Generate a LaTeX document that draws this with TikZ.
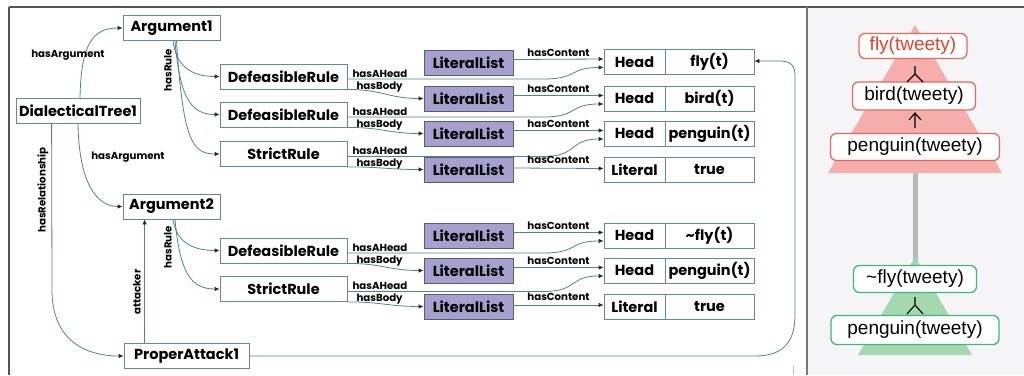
\documentclass[tikz,border=0pt]{standalone}
\usepackage{fontspec}
\setmainfont{Liberation Sans}
\newfontfamily\pop{Poppins}
\usetikzlibrary{arrows.meta,calc}
\definecolor{edge}{HTML}{4E8398}
\definecolor{boxline}{HTML}{5E8C9C}
\definecolor{llfill}{HTML}{A8A0CC}
\definecolor{llline}{HTML}{4E6080}
\definecolor{frame}{HTML}{555555}
\definecolor{rbg}{HTML}{F5F5F8}
\definecolor{redline}{HTML}{EE6655}
\definecolor{redtext}{HTML}{E8402A}
\definecolor{redtri}{HTML}{F6AEAC}
\definecolor{greenline}{HTML}{3DB878}
\definecolor{greentri}{HTML}{A6D8B0}
\tikzset{
  box/.style={draw=boxline, line width=0.8pt, fill=white, minimum height=25pt, inner sep=0pt,
    font=\pop\bfseries\fontsize{14.5}{15}\selectfont},
  llbox/.style={box, fill=llfill, draw=llline},
  lab/.style={font=\pop\bfseries\fontsize{10.2}{11}\selectfont, inner sep=0pt},
  conn/.style={draw=edge, line width=0.8pt},
  arr/.style={conn, -{Latex[length=5pt,width=4.5pt,color=black!85]}},
  rnode/.style={draw, rounded corners=6pt, line width=1.3pt, fill=white, inner sep=0pt,
    font=\fontsize{19}{20}\selectfont},
  sym/.style={draw=black, line width=1.1pt},
}
\begin{document}
\begin{tikzpicture}[x=1pt,y=-1pt]
\useasboundingbox (0,0) rectangle (1024,375);
% frame
\fill[white] (0,0) rectangle (1024,375);
\fill[rbg] (808,8) rectangle (1024,375);
\draw[frame, line width=1.5pt] (9,7) -- (1024,7);
\draw[frame, line width=2.2pt] (9,7) -- (9,375);
\draw[frame!80, line width=1.8pt] (807,7) -- (807,375);
\draw[gray!50, line width=1pt] (793,366) -- (793,375);

% ---------- left panel nodes ----------
\node[box, minimum width=97pt]  (a1) at (171.5,28) {Argument1};
\node[box, minimum width=124pt] (dt) at (78,111) {DialecticalTree1};
\node[box, minimum width=97pt]  (a2) at (171.5,206.5) {Argument2};
\node[box, minimum width=125pt] (pa) at (186.5,356) {ProperAttack1};

\node[box, minimum width=127pt] (d1) at (283.5,76.5) {DefeasibleRule};
\node[box, minimum width=127pt] (d2) at (283.5,114.5) {DefeasibleRule};
\node[box, minimum width=127pt] (s1) at (283.5,154) {StrictRule};
\node[box, minimum width=127pt] (d3) at (283.5,250.5) {DefeasibleRule};
\node[box, minimum width=127pt] (s2) at (283.5,289) {StrictRule};

\foreach \n/\y in {1/62.5,2/98.5,3/133.5,4/169.5,5/235.5,6/270.5,7/306.5}{
  \node[llbox, minimum width=89pt] (l\n) at (468.5,\y) {LiteralList};
}
\foreach \n/\y/\k/\v in {1/62/Head/fly(t),2/98.5/Head/bird(t),3/133.5/Head/penguin(t),4/170/Literal/true,
  5/235.5/Head/\textasciitilde fly(t),6/270.5/Head/penguin(t),7/306.5/Literal/true}{
  \node[box, minimum width=61pt] (h\n a) at (634.5,\y) {\k};
  \node[box, minimum width=89pt] (h\n b) at (709.5,\y) {\v};
}

% ---------- left panel connectors ----------
\draw[arr] ($(dt.north)+(2,0)$) .. controls (81,45) and (92,28) .. (a1.west);
\node[lab] (lha1) at (68,55) {hasArgument};
\draw[arr] ($(dt.south)+(0,0)$) .. controls (79,180) and (95,206.5) .. (a2.west);
\node[lab] (lha2) at (128,157) {hasArgument};
\draw[arr] ($(dt.south west)+(36,0)$) -- (52,290) .. controls (52,340) and (85,356) .. (pa.west);
\node[lab, rotate=90] (lhr) at (43,190) {hasRelationship};
\draw[arr] ($(pa.north west)+(21,0)$) -- ($(a2.south west)+(22,0)$);
\node[lab, rotate=90] (lat) at (137,292) {attacker};

\node[lab, rotate=90] (lr1) at (168,70) {hasRule};
\draw[arr] ($(a1.south)+(1.5,0)$) .. controls (176,65) and (190,76.5) .. (d1.west);
\draw[arr] ($(a1.south)+(3.5,0)$) .. controls (180,100) and (192,114.5) .. (d2.west);
\draw[arr] ($(a1.south)+(5,0)$) .. controls (183,140) and (192,154) .. (s1.west);
\node[lab, rotate=90] (lr2) at (168,247) {hasRule};
\draw[arr] ($(a2.south)+(1.5,0)$) .. controls (176,240) and (190,250.5) .. (d3.west);
\draw[arr] ($(a2.south)+(3.5,0)$) .. controls (180,275) and (192,289) .. (s2.west);

% rule -> head (hasAHead) and rule -> literal list (hasBody)
\foreach \r/\h/\b in {d1/h1a/l2, d2/h2a/l3, s1/h3a/l4, d3/h5a/l6, s2/h6a/l7}{
  \draw[arr] ($(\r.east)+(0,2.5)$) -- ($(\b.east |- \r.east)+(30,2.5)$)
     .. controls +(35,0) and +(-35,0) .. ($(\h.west)+(0,5.5)$);
  \draw[arr] ($(\r.south east)+(0,0)$) .. controls +(35,0) and +(-35,0) .. (\b.west);
  \node[lab, anchor=base west] at ($(\r.east)+(5,0.5)$) {hasAHead};
  \node[lab, anchor=base west] at ($(\r.south east)+(9,0)$) {hasBody};
}
% literal list -> head (hasContent)
\foreach \n in {1,2,3,5,6}{
  \draw[arr] ($(l\n.east)+(0,-3)$) -- ($(h\n a.west)+(0,-3)$);
  \node[lab, anchor=base] at ($(l\n.east)!0.5!(h\n a.west)+(0,-6)$) {hasContent};
}
\foreach \n in {4,7}{
  \draw[arr] ($(l\n.east)+(0,-1.5)$) -- ($(h\n a.west)+(0,-1.5)$);
  \node[lab, anchor=base] at ($(l\n.east)!0.5!(h\n a.west)+(0,-6)$) {hasContent};
}
% proper attack -> fly(t)
\draw[arr] (pa.east) -- (755,356) .. controls (785,356) and (795,340) .. (795,315)
  -- (795,75) .. controls (795,65) and (790,61) .. (780,61) -- ($(h1b.east)+(0,-1)$);

% ---------- right panel ----------
\fill[redtri] (915,25) -- (1002,173) -- (828,173) -- cycle;
\fill[gray!55] (912.5,173) rectangle (917.5,262);
\fill[greentri] (915,257) -- (972,355) -- (858,355) -- cycle;

\node[rnode, draw=redline, text=redtext, minimum width=108pt, minimum height=25pt] (fly) at (913,46) {fly(tweety)};
\node[rnode, draw=redline, minimum width=123pt, minimum height=28pt] (bird) at (914,96) {bird(tweety)};
\node[rnode, draw=redline, minimum width=169pt, minimum height=27pt] (peng) at (915,147) {penguin(tweety)};
\node[rnode, draw=greenline, minimum width=123pt, minimum height=27pt] (nfly) at (915,279) {\textasciitilde fly(tweety)};
\node[rnode, draw=greenline, minimum width=168pt, minimum height=29pt] (peng2) at (915,330) {penguin(tweety)};

% support symbols
\draw[sym] (915,66) -- (915,74) -- (907,82) (915,74) -- (923,82);
\draw[sym] (915,128) -- (915,113) (909,120) -- (915,113) -- (921,120);
\draw[sym] (915,297) -- (915,305) -- (907,314) (915,305) -- (923,314);
\end{tikzpicture}
\end{document}
